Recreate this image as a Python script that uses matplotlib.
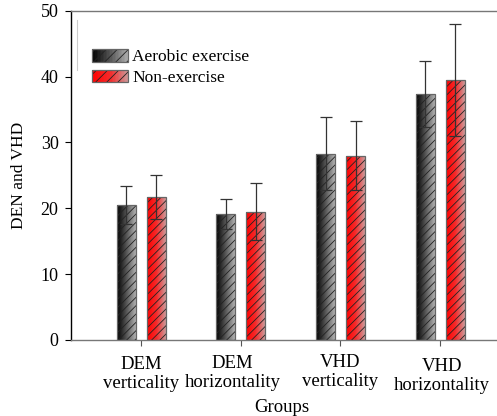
import numpy as np
import matplotlib
matplotlib.use("Agg")
import matplotlib.pyplot as plt
import matplotlib.transforms as mtransforms
from matplotlib.colors import LinearSegmentedColormap
from matplotlib.patches import Rectangle
from matplotlib.legend_handler import HandlerBase

categories = ["DEM\nverticality", "DEM\nhorizontality", "VHD\nverticality", "VHD\nhorizontality"]
series_names = ["Aerobic exercise", "Non-exercise"]
aerobic = [20.5, 19.1, 28.3, 37.3]
aerobic_err = [2.9, 2.3, 5.6, 5.0]
nonex = [21.7, 19.5, 28.0, 39.5]
nonex_err = [3.3, 4.3, 5.3, 8.5]
yticks = [0, 10, 20, 30, 40, 50]

plt.rcParams['font.family'] = ['Liberation Serif', 'DejaVu Serif']
plt.rcParams['hatch.linewidth'] = 0.6

cmap_black = LinearSegmentedColormap.from_list("bk", ["#000000", "#555555", "#b0b0b0"])
cmap_red = LinearSegmentedColormap.from_list("rd", ["#ff0000", "#f52a2a", "#cc9a9a"])

fig = plt.figure(figsize=(4.97, 4.16), dpi=100)
ax = fig.add_axes([0.143, 0.183, 0.857, 0.791])

x = np.arange(len(categories))
w = 0.19
offs = [-0.148, 0.152]
grad = np.linspace(0, 1, 64).reshape(1, -1)
HATCH = '////'

for vals, errs, off, cmap in [(aerobic, aerobic_err, offs[0], cmap_black),
                              (nonex, nonex_err, offs[1], cmap_red)]:
    bars = ax.bar(x + off, vals, width=w, facecolor='none', edgecolor='#666666',
                  linewidth=0.9, zorder=3.5)
    ax.bar(x + off, vals, width=w, facecolor='none', edgecolor='#222222',
           hatch=HATCH, linewidth=0, zorder=3)
    for b in bars:
        im = ax.imshow(grad, cmap=cmap, aspect='auto', interpolation='bilinear',
                       extent=(b.get_x(), b.get_x() + b.get_width(), 0, b.get_height()),
                       zorder=2)
        im.set_clip_path(b)
    ax.errorbar(x + off, vals, yerr=errs, fmt='none', ecolor='#333333',
                elinewidth=0.9, capsize=4, capthick=0.9, zorder=4)

ax.set_xlim(-0.70, 3.57)
ax.set_ylim(0, 50)
ax.set_yticks(yticks)
ax.set_xticks(x)
ax.set_xticklabels(categories, fontsize=13.5, linespacing=1.15)
ax.tick_params(axis='y', labelsize=13, length=4, direction='out', pad=5)
ax.tick_params(axis='x', length=4, direction='out', color='#555555', pad=7)
ax.set_ylabel("DEN and VHD", fontsize=12.5)
ax.yaxis.set_label_coords(-0.103, 0.5)
ax.set_xlabel("Groups", fontsize=13.5)
ax.xaxis.set_label_coords(0.495, -0.18)

# small per-label offsets (pixels at 100 dpi -> points)
label_offsets = [(0, -1), (-8, 0), (0, 1), (2, -3)]
for lbl, (dx, dy) in zip(ax.get_xticklabels(), label_offsets):
    off = mtransforms.ScaledTranslation(dx / 100, dy / 100, fig.dpi_scale_trans)
    lbl.set_transform(lbl.get_transform() + off)

ax.spines['right'].set_visible(False)
ax.spines['top'].set_color('#777777')
ax.spines['bottom'].set_color('#777777')
ax.spines['left'].set_color('#000000')
for s in ax.spines.values():
    s.set_linewidth(1.0)

# faint vertical line artifact near the legend
ax.plot([0.014, 0.014], [0.82, 0.973], transform=ax.transAxes, color='#cccccc', lw=0.8)


class GradHandler(HandlerBase):
    def __init__(self, cmap):
        super().__init__()
        self.cmap = cmap

    def create_artists(self, legend, orig_handle, xdescent, ydescent, width, height, fontsize, trans):
        arts = []
        n = 24
        for i in range(n):
            r = Rectangle((-xdescent + width * i / n, -ydescent), width / n + 0.3, height,
                          facecolor=self.cmap((i + 0.5) / n), edgecolor='none', transform=trans)
            arts.append(r)
        arts.append(Rectangle((-xdescent, -ydescent), width, height, facecolor='none',
                              edgecolor='#222222', hatch='///', lw=0, transform=trans))
        arts.append(Rectangle((-xdescent, -ydescent), width, height, facecolor='none',
                              edgecolor='#666666', lw=0.9, transform=trans))
        return arts


h1 = Rectangle((0, 0), 1, 1)
h2 = Rectangle((0, 0), 1, 1)
leg = ax.legend([h1, h2], series_names, loc='upper left', bbox_to_anchor=(0.033, 0.905),
                frameon=False, fontsize=12.5, handlelength=2.07, handleheight=0.75,
                handletextpad=0.25, labelspacing=0.25, borderaxespad=0,
                handler_map={h1: GradHandler(cmap_black), h2: GradHandler(cmap_red)})

fig.savefig("out.png", dpi=100)
